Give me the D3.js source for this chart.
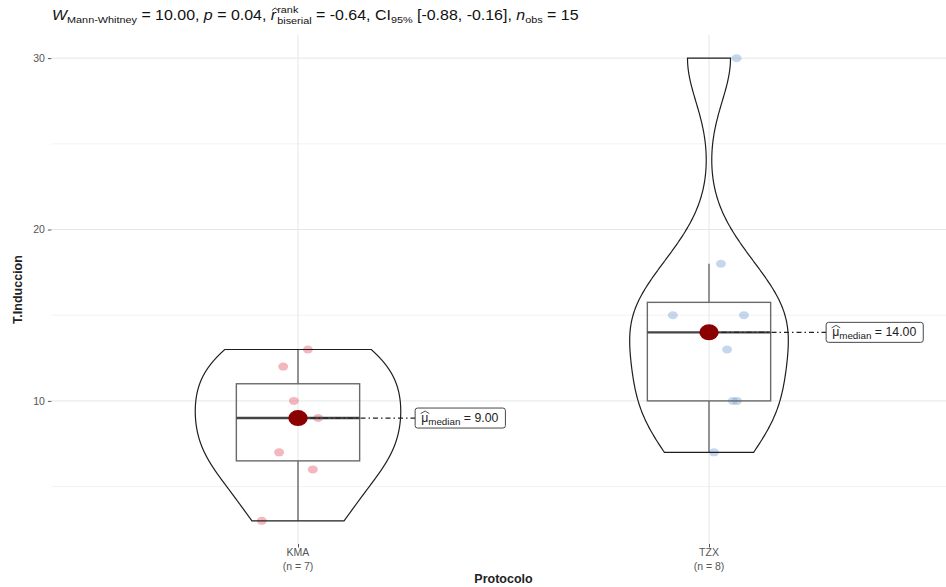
<!DOCTYPE html>
<html>
<head>
<meta charset="utf-8">
<script src="https://cdn.jsdelivr.net/npm/d3@7"></script>
<style>
  html, body { margin: 0; padding: 0; background: #fff; }
  svg { display: block; font-family: "Liberation Sans", Arial, sans-serif; }
  text { white-space: pre; }
</style>
</head>
<body>
<svg id="chart" width="946" height="587"></svg>
<script>
// ---- data ----
const categories = ["KMA", "TZX"];
const kmaValues = [13, 12, 10, 9, 7, 6, 3];
const tzxValues = [30, 18, 15, 15, 13, 10, 10, 7];
// horizontal jitter of each observation, in category units
const kmaJitter = [0.024, -0.036, -0.010, 0.049, -0.046, 0.036, -0.088];
const tzxJitter = [0.067, 0.029, -0.088, 0.085, 0.044, 0.058, 0.068, 0.012];
const majorTicks = [10, 20, 30];
const minorTicks = [5, 15, 25];
const stats = { W: "10.00", p: "0.04", r: "-0.64", ciLow: "-0.88", ciHigh: "-0.16", nObs: "15" };

const groups = [
  { name: categories[0], values: kmaValues, jitter: kmaJitter, color: "#e8606f" },
  { name: categories[1], values: tzxValues, jitter: tzxJitter, color: "#7fa6d6" }
];

// ---- layout ----
const svg = d3.select("#chart");
const panel = { left: 51.4, right: 955.6, top: 35, bottom: 544 };

const x = d3.scalePoint().domain(categories).range([panel.left, panel.right]).padding(0.6);
const step = x.step();
const allValues = kmaValues.concat(tzxValues);
const yMin = d3.min(allValues), yMax = d3.max(allValues);
const yPad = (yMax - yMin) * 0.05;
const y = d3.scaleLinear().domain([yMin - yPad, yMax + yPad]).range([panel.bottom, panel.top]);

// ---- grid ----
const grid = svg.append("g");
grid.selectAll("line.minor").data(minorTicks).join("line")
  .attr("x1", panel.left).attr("x2", 946)
  .attr("y1", d => y(d)).attr("y2", d => y(d))
  .attr("stroke", "#f2f2f2").attr("stroke-width", 1);
grid.selectAll("line.major").data(majorTicks).join("line")
  .attr("x1", panel.left).attr("x2", 946)
  .attr("y1", d => y(d)).attr("y2", d => y(d))
  .attr("stroke", "#e6e6e6").attr("stroke-width", 1);
grid.selectAll("line.vx").data(categories).join("line")
  .attr("x1", d => x(d)).attr("x2", d => x(d))
  .attr("y1", panel.top).attr("y2", panel.bottom)
  .attr("stroke", "#e6e6e6").attr("stroke-width", 1);

// ---- axes ----
const yAxis = d3.axisLeft(y).tickValues(majorTicks).tickSize(3.5).tickPadding(3);
const gy = svg.append("g").attr("transform", `translate(${panel.left},0)`).call(yAxis);
gy.select(".domain").remove();
gy.selectAll(".tick line").attr("stroke", "#555");
gy.selectAll(".tick text").attr("fill", "#555").attr("font-size", 10.5)
  .attr("font-family", "Liberation Sans, Arial, sans-serif");

const xAxis = d3.axisBottom(x).tickSize(3.5).tickFormat("");
const gx = svg.append("g").attr("transform", `translate(0,${panel.bottom})`).call(xAxis);
gx.select(".domain").remove();
gx.selectAll(".tick line").attr("stroke", "#555");

groups.forEach(g => {
  const t = svg.append("text").attr("x", x(g.name)).attr("text-anchor", "middle")
    .attr("fill", "#555").attr("font-size", 10.5);
  t.append("tspan").attr("x", x(g.name)).attr("y", 556).text(g.name);
  t.append("tspan").attr("x", x(g.name)).attr("y", 569.5).text(`(n = ${g.values.length})`);
});

svg.append("text").attr("x", (panel.left + panel.right) / 2).attr("y", 583)
  .attr("text-anchor", "middle").attr("font-weight", "bold").attr("font-size", 12.5)
  .attr("fill", "#222").text("Protocolo");
svg.append("text")
  .attr("transform", `translate(22,${(panel.top + panel.bottom) / 2}) rotate(-90)`)
  .attr("text-anchor", "middle").attr("font-weight", "bold").attr("font-size", 12.5)
  .attr("fill", "#222").text("T.Induccion");

// ---- statistics per group ----
function nrd0(v) {
  const s = d3.deviation(v);
  const q = (d3.quantile(v, 0.75) - d3.quantile(v, 0.25)) / 1.34;
  const lo = Math.min(s, q) || s || 1;
  return 0.9 * lo * Math.pow(v.length, -0.2);
}
groups.forEach(g => {
  const v = g.values.slice().sort(d3.ascending);
  g.q1 = d3.quantile(v, 0.25);
  g.med = d3.quantile(v, 0.5);
  g.q3 = d3.quantile(v, 0.75);
  const iqr = g.q3 - g.q1;
  g.wLow = d3.min(v.filter(d => d >= g.q1 - 1.5 * iqr));
  g.wHigh = d3.max(v.filter(d => d <= g.q3 + 1.5 * iqr));
  const bw = nrd0(v);
  const lo = v[0], hi = v[v.length - 1];
  g.density = d3.range(512).map(i => {
    const t = lo + (hi - lo) * i / 511;
    const dens = d3.sum(v, xi => Math.exp(-0.5 * ((t - xi) / bw) ** 2)) / (v.length * bw * Math.sqrt(2 * Math.PI));
    return [t, dens];
  });
});
const maxDens = d3.max(groups, g => d3.max(g.density, d => d[1]));

// ---- jittered observations ----
groups.forEach(g => {
  svg.append("g").selectAll("ellipse").data(g.values).join("ellipse")
    .attr("cx", (d, i) => x(g.name) + g.jitter[i] * step)
    .attr("cy", d => y(d))
    .attr("rx", 5).attr("ry", 4)
    .attr("fill", g.color).attr("fill-opacity", 0.45);
});

// ---- box plots ----
const boxHalf = 0.15 * step;
groups.forEach(g => {
  const cx = x(g.name);
  const b = svg.append("g").attr("stroke", "#6a6a6a").attr("fill", "none").attr("stroke-width", 1.4);
  b.append("line").attr("x1", cx).attr("x2", cx).attr("y1", y(g.q3)).attr("y2", y(g.wHigh));
  b.append("line").attr("x1", cx).attr("x2", cx).attr("y1", y(g.q1)).attr("y2", y(g.wLow));
  b.append("rect").attr("x", cx - boxHalf).attr("width", 2 * boxHalf)
    .attr("y", y(g.q3)).attr("height", y(g.q1) - y(g.q3));
  b.append("line").attr("x1", cx - boxHalf).attr("x2", cx + boxHalf)
    .attr("y1", y(g.med)).attr("y2", y(g.med)).attr("stroke", "#444").attr("stroke-width", 2.4);
});

// ---- violins (area scaled, trimmed) ----
const violinHalf = 0.25 * step;
groups.forEach(g => {
  const cx = x(g.name);
  const right = g.density.map(d => [cx + d[1] / maxDens * violinHalf, y(d[0])]);
  const left = g.density.slice().reverse().map(d => [cx - d[1] / maxDens * violinHalf, y(d[0])]);
  svg.append("path").attr("d", d3.line()(right.concat(left)) + "Z")
    .attr("fill", "none").attr("stroke", "#1e1e1e").attr("stroke-width", 1.2);
});

// ---- medians with labels ----
const labelOffset = 0.285 * step;
groups.forEach(g => {
  const cx = x(g.name), cy = y(g.med);
  const lx = cx + labelOffset;
  svg.append("line").attr("x1", cx).attr("x2", lx).attr("y1", cy).attr("y2", cy)
    .attr("stroke", "#222").attr("stroke-width", 1.2).attr("stroke-dasharray", "5,3,1.5,3");
  svg.append("ellipse").attr("cx", cx).attr("cy", cy).attr("rx", 9.7).attr("ry", 8)
    .attr("fill", "#8b0000");

  const lg = svg.append("g");
  const fs = 12.3;
  const t = lg.append("text").attr("y", cy + 4).attr("font-size", fs).attr("fill", "#222");
  const mu = t.append("tspan").attr("x", lx + 6).text("\u03bc");
  t.append("tspan").attr("font-size", fs * 0.8).attr("dy", 2.5).text("median");
  t.append("tspan").attr("dy", -2.5).text(` = ${g.med.toFixed(2)}`);
  const tw = t.node().getComputedTextLength();
  // wide hat over mu
  const mw = mu.node().getComputedTextLength();
  lg.append("path")
    .attr("d", `M${lx + 5.5},${cy - 4.5} L${lx + 6 + mw / 2 + 0.5},${cy - 7} L${lx + 7 + mw},${cy - 4.5}`)
    .attr("fill", "none").attr("stroke", "#222").attr("stroke-width", 0.8);
  lg.insert("rect", "text").attr("x", lx).attr("y", cy - 10).attr("width", tw + 13).attr("height", 20)
    .attr("rx", 2.5).attr("fill", "#fff").attr("stroke", "#333").attr("stroke-width", 0.9);
});

// ---- subtitle with test statistics ----
(function () {
  const base = 14.5, small = base * 0.68, baseline = 20.5;
  const tg = svg.append("g").attr("fill", "#111")
    .attr("transform", "translate(52,0) scale(1.1,1) translate(-52,0)");
  let cx = 52;
  function piece(txt, opts = {}) {
    const el = tg.append("text").attr("x", cx).attr("y", baseline + (opts.dy || 0))
      .attr("font-size", opts.size || base)
      .attr("font-style", opts.italic ? "italic" : null)
      .text(txt);
    const w = el.node().getComputedTextLength();
    if (!opts.noAdvance) cx += w;
    return w;
  }
  piece("W", { italic: true });
  piece("Mann-Whitney", { size: small, dy: 3 });
  piece(` = ${stats.W}, `);
  piece("p", { italic: true });
  piece(` = ${stats.p}, `);
  const rx = cx;
  const rw = piece("r", { italic: true });
  tg.append("path").attr("d", `M${rx + 1},${baseline - 10} L${rx + rw / 2 + 1.5},${baseline - 12.5} L${rx + rw + 2},${baseline - 10}`)
    .attr("fill", "none").attr("stroke", "#111").attr("stroke-width", 0.8);
  cx += 1;
  const w1 = piece("rank", { size: small, dy: -7, noAdvance: true });
  const w2 = piece("biserial", { size: small, dy: 3.5, noAdvance: true });
  cx += Math.max(w1, w2);
  piece(` = ${stats.r}, CI`);
  piece("95%", { size: small, dy: 3 });
  piece(` [${stats.ciLow}, ${stats.ciHigh}], `);
  piece("n", { italic: true });
  piece("obs", { size: small, dy: 3 });
  piece(` = ${stats.nObs}`);
})();
</script>
</body>
</html>
